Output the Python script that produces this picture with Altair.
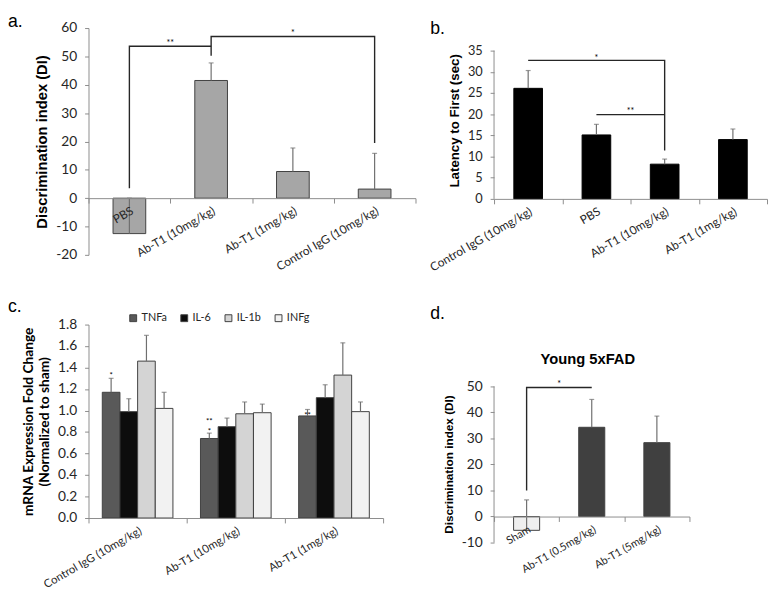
import altair as alt
import pandas as pd

# ---------------- panel a ----------------
a_cats = ["PBS", "Ab-T1 (10mg/kg)", "Ab-T1 (1mg/kg)", "Control IgG (10mg/kg)"]
a_vals = [-12.5, 41.5, 9.4, 3.2]
a_errs = [0.0, 47.7, 17.7, 15.8]
a_brk_id = [1, 1, 1, 2, 2, 2, 2]
a_brk_cat = ["PBS", "PBS", "Ab-T1 (10mg/kg)", "Ab-T1 (10mg/kg)", "Ab-T1 (10mg/kg)",
             "Control IgG (10mg/kg)", "Control IgG (10mg/kg)"]
a_brk_val = [3.5, 53.6, 53.6, 50.2, 57.0, 57.0, 19.5]
a_star_cat = ["PBS", "Ab-T1 (1mg/kg)"]
a_star_band = [1.0, 0.5]
a_star_val = [55.4, 58.9]
a_star_txt = ["**", "*"]

# ---------------- panel b ----------------
b_cats = ["Control IgG (10mg/kg)", "PBS", "Ab-T1 (10mg/kg)", "Ab-T1 (1mg/kg)"]
b_vals = [26.1, 15.1, 8.2, 14.0]
b_errs = [30.3, 17.6, 9.4, 16.5]
b_brk_id = [1, 1, 1, 2, 2]
b_brk_cat = ["Control IgG (10mg/kg)", "Ab-T1 (10mg/kg)", "Ab-T1 (10mg/kg)", "PBS", "Ab-T1 (10mg/kg)"]
b_brk_val = [32.7, 32.7, 11.4, 19.9, 19.9]
b_star_cat = ["PBS", "PBS"]
b_star_band = [0.5, 1.0]
b_star_val = [33.8, 21.3]
b_star_txt = ["*", "**"]

# ---------------- panel c ----------------
c_groups = ["Control IgG (10mg/kg)", "Ab-T1 (10mg/kg)", "Ab-T1 (1mg/kg)"]
c_series = ["TNFa", "IL-6", "IL-1b", "INFg"]
c_colors = ["#595959", "#0d0d0d", "#d4d4d4", "#f2f2f2"]
c_vals = {
    "TNFa": [1.17, 0.74, 0.95],
    "IL-6": [0.99, 0.85, 1.12],
    "IL-1b": [1.46, 0.97, 1.33],
    "INFg": [1.02, 0.98, 0.99],
}
c_errs = {
    "TNFa": [1.30, 0.79, 1.01],
    "IL-6": [1.11, 0.93, 1.24],
    "IL-1b": [1.70, 1.08, 1.63],
    "INFg": [1.17, 1.06, 1.08],
}
c_star_group = ["Control IgG (10mg/kg)", "Ab-T1 (10mg/kg)", "Ab-T1 (10mg/kg)", "Ab-T1 (1mg/kg)"]
c_star_val = [1.335, 0.915, 0.822, 0.969]
c_star_txt = ["*", "**", "*", "**"]

# ---------------- panel d ----------------
d_cats = ["Sham", "Ab-T1 (0.5mg/kg)", "Ab-T1 (5mg/kg)"]
d_vals = [-5.3, 34.3, 28.4]
d_errs = [6.4, 45.0, 38.6]
d_colors = ["#efefef", "#404040", "#404040"]
d_brk_cat = ["Sham", "Sham", "Ab-T1 (0.5mg/kg)"]
d_brk_val = [10.0, 49.6, 49.6]
d_star_cat = ["Sham"]
d_star_band = [1.0]
d_star_val = [51.5]
d_star_txt = ["*"]
d_title = ["Young 5xFAD"]
d_title_cat = ["Ab-T1 (0.5mg/kg)"]
d_title_val = [60.6]

LABEL_FONT = "Lato"
TITLE_FONT = "Liberation Sans"
ERR_COL = "#6f6f6f"
BRK_COL = "#262626"
AX_COL = "#8c8c8c"
LBL_COL = "#262626"
PLAIN_NUM = "replace(datum.label, '\u2212', '-')"


def x_enc(cats, fs, offset=0, band=None):
    kw = {}
    if band is not None:
        kw["bandPosition"] = band
    return alt.X(
        "cat:N",
        scale=alt.Scale(domain=cats, paddingInner=0, paddingOuter=0),
        axis=alt.Axis(title=None, labelAngle=-30, labelAlign="right", labelBaseline="top",
                      tickBand="extent", offset=offset, labelFontSize=fs, tickSize=5,
                      labelPadding=2, labelFont=LABEL_FONT, labelColor=LBL_COL,
                      domainColor=AX_COL, tickColor=AX_COL, labelLimit=300, zindex=1),
        **kw,
    )


def y_enc(field, dom, values, title, fs, tfs, tpad, tfont, domain_line=True, title_y=None):
    axkw = dict(values=values, title=title, labelFontSize=fs, titleFontSize=tfs,
                titlePadding=tpad, tickSize=4, labelPadding=8, labelFont=LABEL_FONT,
                labelColor=LBL_COL, titleFont=tfont, titleFontWeight="bold",
                titleColor="#000000", domain=domain_line, domainColor=AX_COL,
                tickColor=AX_COL, format="d", labelExpr=PLAIN_NUM, grid=False,
                labelOverlap=False)
    if title_y is not None:
        axkw["titleY"] = title_y
    return alt.Y(field, scale=alt.Scale(domain=dom, nice=False, zero=False),
                 axis=alt.Axis(**axkw))


def panel_title(txt, dx, off):
    return alt.TitleParams(txt, anchor="start", frame="group", dx=dx, offset=off,
                           fontSize=18, font=TITLE_FONT, fontWeight="normal",
                           baseline="alphabetic", color="#000000")


def simple_panel(cats, vals, errs, brk_id, brk_cat, brk_val, star_cat, star_band,
                 star_val, star_txt, w, h, dom, yvals, ytitle, yfs, ytfs, ytpad, ytfont,
                 xfs, xoff, fill, title, extend_top=None, title_y=None, bar_w=0.4,
                 bar_stroke="#404040", extra_text=None):
    df = pd.DataFrame({"cat": cats, "val": vals, "err": errs, "fill": fill})
    yk = dict(dom=dom, values=yvals, title=ytitle, fs=yfs, tfs=ytfs, tpad=ytpad,
              tfont=ytfont, domain_line=extend_top is None, title_y=title_y)
    X = x_enc(cats, xfs, xoff)
    bars = alt.Chart(df).mark_bar(width={"band": bar_w}, stroke=bar_stroke, strokeWidth=1).encode(
        x=X, y=y_enc("val:Q", **yk), fill=alt.Fill("fill:N", scale=None))
    err = alt.Chart(df).mark_rule(color=ERR_COL, strokeWidth=1.2).encode(
        x=X, y=y_enc("val:Q", **yk), y2="err:Q")
    cap = alt.Chart(df).mark_tick(color=ERR_COL, size=5, thickness=1.2).encode(
        x=X, y=y_enc("err:Q", **yk))
    layers = [bars, err, cap]
    if brk_cat:
        bdf = pd.DataFrame({"cat": brk_cat, "val": brk_val, "id": brk_id,
                            "ord": list(range(len(brk_cat)))})
        layers.append(alt.Chart(bdf).mark_line(color=BRK_COL, strokeWidth=1.4).encode(
            x=X, y=y_enc("val:Q", **yk), detail="id:N", order="ord:Q"))
    for c_, b_, v_, t_ in zip(star_cat, star_band, star_val, star_txt):
        sdf = pd.DataFrame({"cat": [c_], "val": [v_], "t": [t_]})
        layers.append(alt.Chart(sdf).mark_text(fontSize=9, font=LABEL_FONT, baseline="middle",
                                               dy=2, color="#000000").encode(
            x=x_enc(cats, xfs, xoff, band=b_), y=y_enc("val:Q", **yk), text="t:N"))
    if extend_top is not None:
        ldf = pd.DataFrame({"lo": [dom[0]], "hi": [extend_top]})
        layers.append(alt.Chart(ldf).mark_rule(color=AX_COL, strokeWidth=1).encode(
            x=alt.value(0), y=y_enc("lo:Q", **yk), y2="hi:Q"))
    if extra_text is not None:
        tdf = pd.DataFrame(extra_text)
        layers.append(alt.Chart(tdf).mark_text(fontSize=15, font=TITLE_FONT, fontWeight="bold",
                                               color="#000000", dx=-4, baseline="middle").encode(
            x=X, y=y_enc("val:Q", **yk), text="t:N"))
    return alt.layer(*layers).properties(width=w, height=h, title=title)


# ---------- layout numbers ----------
A_W, A_H = 333, 231
ROW_GAP, COL_GAP = 71, 80
C_TOP = A_H + ROW_GAP  # row-2 origin relative to panel a origin

# ---------- panel a ----------
a_dom = [-20, 60]
a_off = -(0 - a_dom[0]) / (a_dom[1] - a_dom[0]) * A_H
chart_a = simple_panel(a_cats, a_vals, a_errs, a_brk_id, a_brk_cat, a_brk_val,
                       a_star_cat, a_star_band, a_star_val, a_star_txt,
                       A_W, A_H, a_dom, list(range(-20, 61, 10)),
                       "Discrimination index (DI)", 14, 15, 6, TITLE_FONT, 12, a_off,
                       ["#a6a6a6"] * 4, panel_title("a.", -82, -24))

# ---------- panel b ----------
b_h = 174
b_dom = [0, 40.33]
chart_b = simple_panel(b_cats, b_vals, b_errs, b_brk_id, b_brk_cat, b_brk_val,
                       b_star_cat, b_star_band, b_star_val, b_star_txt,
                       278, b_h, b_dom, list(range(0, 36, 5)),
                       "Latency to First (sec)", 13, 13.5, 6, TITLE_FONT, 12, 0,
                       ["#000000"] * 4, panel_title("b.", -65, -24), extend_top=35,
                       title_y=94, bar_w=0.42, bar_stroke="#000000")

# ---------- panel c ----------
rows = []
for s in c_series:
    for g, v, e in zip(c_groups, c_vals[s], c_errs[s]):
        rows.append({"cat": g, "series": s, "val": v, "err": e})
cdf = pd.DataFrame(rows)
c_h = 197
c_dom = [0, 1.8]
c_yvals = [round(0.2 * i, 1) for i in range(10)]
XC = x_enc(c_groups, 11.5, 0)
XO = alt.XOffset("series:N", scale=alt.Scale(domain=c_series, paddingInner=0, paddingOuter=0.78))


def yc(field):
    return alt.Y(field, scale=alt.Scale(domain=c_dom, nice=False, zero=False),
                 axis=alt.Axis(values=c_yvals, format=".1f",
                               title=["mRNA Expression Fold Change", "(Normalized to sham)"],
                               labelFontSize=14, titleFontSize=14, titlePadding=6,
                               titleLineHeight=16, tickSize=4, labelPadding=8,
                               labelFont=LABEL_FONT, labelColor=LBL_COL,
                               titleFont=LABEL_FONT, titleFontWeight="bold",
                               titleColor="#000000", domainColor=AX_COL, tickColor=AX_COL,
                               grid=False, labelOverlap=False))


c_bars = alt.Chart(cdf).mark_bar(stroke="#404040", strokeWidth=1).encode(
    x=XC, xOffset=XO, y=yc("val:Q"),
    fill=alt.Fill("series:N", scale=alt.Scale(domain=c_series, range=c_colors),
                  legend=alt.Legend(orient="none", legendX=40, legendY=C_TOP - 12,
                                    direction="horizontal", columns=4, title=None,
                                    symbolType="square", symbolSize=49,
                                    symbolStrokeColor="#404040", symbolStrokeWidth=1,
                                    labelFont=LABEL_FONT, labelFontSize=11,
                                    labelColor=LBL_COL, labelOffset=3, columnPadding=12)))
c_err = alt.Chart(cdf).mark_rule(color=ERR_COL, strokeWidth=1.2).encode(
    x=XC, xOffset=XO, y=yc("val:Q"), y2="err:Q")
c_cap = alt.Chart(cdf).mark_tick(color=ERR_COL, size=5, thickness=1.2).encode(
    x=XC, xOffset=XO, y=yc("err:Q"))
c_sdf = pd.DataFrame({"cat": c_star_group, "series": ["TNFa"] * len(c_star_group),
                      "val": c_star_val, "t": c_star_txt})
c_stars = alt.Chart(c_sdf).mark_text(fontSize=8, font=LABEL_FONT, baseline="middle", dy=2,
                                     color="#000000").encode(
    x=XC, xOffset=XO, y=yc("val:Q"), text="t:N")
chart_c = alt.layer(c_bars, c_err, c_cap, c_stars).properties(
    width=300, height=c_h, title=panel_title("c.", -82, -12))

# ---------- panel d ----------
d_h = 222
d_dom = [-10, 73.77]
d_off = -(0 - d_dom[0]) / (d_dom[1] - d_dom[0]) * d_h
chart_d = simple_panel(d_cats, d_vals, d_errs, [1, 1, 1], d_brk_cat, d_brk_val,
                       d_star_cat, d_star_band, d_star_val, d_star_txt,
                       199, d_h, d_dom, list(range(-10, 51, 10)),
                       "Discrimination index (DI)", 14, 12, 6, TITLE_FONT, 11, d_off,
                       d_colors, panel_title("d.", -65, -12), extend_top=50,
                       title_y=142, bar_w=0.4, bar_stroke="#404040",
                       extra_text={"cat": d_title_cat, "val": d_title_val, "t": d_title})

chart = alt.concat(chart_a, chart_b, chart_c, chart_d, columns=2,
                   spacing={"row": ROW_GAP, "column": COL_GAP}, bounds="flush").properties(
    padding=0).configure_view(strokeOpacity=0)

chart.save("out.html", embed_options={"renderer": "svg", "actions": False})
